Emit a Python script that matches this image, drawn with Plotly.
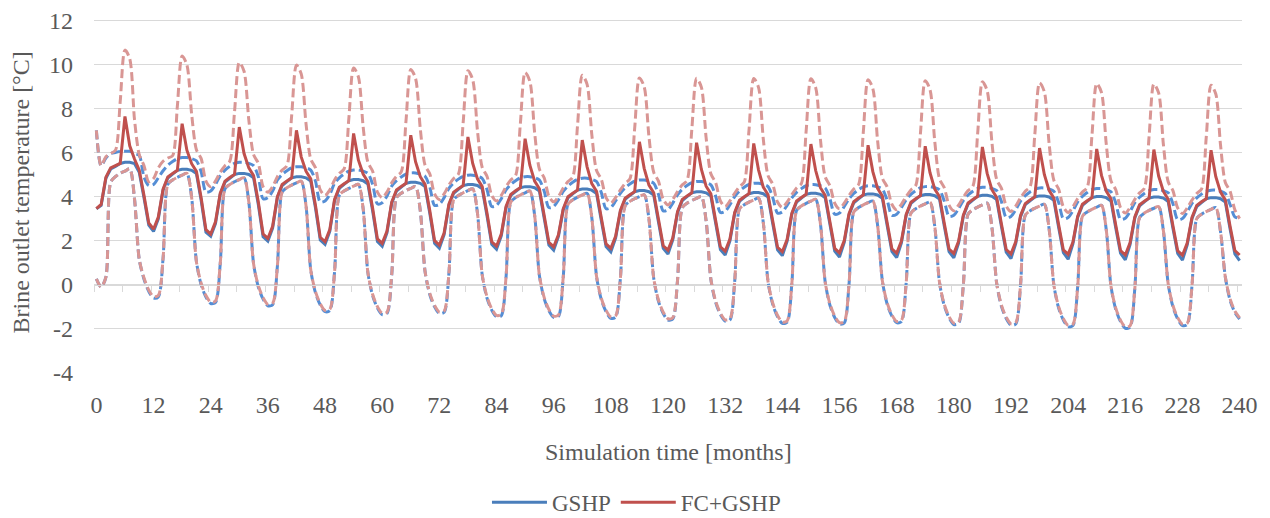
import plotly.graph_objects as go

# ---------------- data (monthly values, one row of 12 months per simulation year) ----------------
months = list(range(241))
tick_vals = [0, 12, 24, 36, 48, 60, 72, 84, 96, 108, 120, 132, 144, 156, 168, 180, 192, 204, 216, 228, 240]
tick_text = [str(v) for v in tick_vals]
y_tick_vals = [-4, -2, 0, 2, 4, 6, 8, 10, 12]
y_tick_text = ["-4", "-2", "0", "2", "4", "6", "8", "10", "12"]

gshp_mean_rows = [
    [3.45, 3.60, 4.83, 5.25, 5.37, 5.50, 5.55, 5.55, 5.50, 5.10, 3.93, 2.70],
    [2.42, 2.99, 4.29, 4.84, 5.02, 5.19, 5.24, 5.24, 5.19, 5.04, 3.82, 2.38],
    [2.20, 2.77, 4.10, 4.65, 4.83, 5.00, 5.05, 5.05, 5.00, 4.85, 3.63, 2.18],
    [1.98, 2.57, 3.95, 4.50, 4.68, 4.85, 4.90, 4.90, 4.85, 4.70, 3.48, 2.03],
    [1.83, 2.42, 3.82, 4.37, 4.55, 4.72, 4.77, 4.77, 4.72, 4.57, 3.35, 1.96],
    [1.75, 2.35, 3.70, 4.25, 4.43, 4.60, 4.65, 4.65, 4.60, 4.45, 3.23, 1.88],
    [1.66, 2.27, 3.60, 4.15, 4.33, 4.50, 4.55, 4.55, 4.50, 4.35, 3.13, 1.83],
    [1.61, 2.22, 3.50, 4.05, 4.23, 4.40, 4.45, 4.45, 4.40, 4.25, 3.03, 1.80],
    [1.57, 2.19, 3.39, 3.94, 4.12, 4.29, 4.34, 4.34, 4.29, 4.14, 2.92, 1.73],
    [1.49, 2.12, 3.32, 3.87, 4.05, 4.22, 4.27, 4.27, 4.22, 4.07, 2.85, 1.65],
    [1.40, 2.04, 3.27, 3.82, 4.00, 4.17, 4.22, 4.22, 4.17, 4.02, 2.80, 1.60],
    [1.35, 1.99, 3.23, 3.78, 3.96, 4.13, 4.18, 4.18, 4.13, 3.98, 2.76, 1.58],
    [1.32, 1.97, 3.20, 3.75, 3.93, 4.10, 4.15, 4.15, 4.10, 3.95, 2.73, 1.53],
    [1.26, 1.92, 3.17, 3.72, 3.90, 4.07, 4.12, 4.12, 4.07, 3.92, 2.70, 1.51],
    [1.23, 1.90, 3.14, 3.69, 3.87, 4.04, 4.09, 4.09, 4.04, 3.89, 2.67, 1.50],
    [1.22, 1.89, 3.11, 3.66, 3.84, 4.01, 4.06, 4.06, 4.01, 3.86, 2.64, 1.48],
    [1.19, 1.87, 3.08, 3.63, 3.81, 3.98, 4.03, 4.03, 3.98, 3.83, 2.61, 1.46],
    [1.16, 1.85, 3.05, 3.60, 3.78, 3.95, 4.00, 4.00, 3.95, 3.80, 2.58, 1.43],
    [1.13, 1.82, 3.03, 3.58, 3.76, 3.93, 3.98, 3.98, 3.93, 3.78, 2.56, 1.42],
    [1.12, 1.81, 3.00, 3.55, 3.73, 3.90, 3.95, 3.95, 3.90, 3.75, 2.53, 1.40],
]
gshp_mean_end = 1.10

gshp_max_rows = [
    [7.00, 5.40, 5.75, 5.95, 6.00, 6.05, 6.05, 6.05, 5.95, 5.86, 4.88, 4.50],
    [4.55, 4.85, 5.17, 5.42, 5.59, 5.72, 5.77, 5.77, 5.72, 5.62, 5.12, 4.20],
    [4.25, 4.55, 4.95, 5.20, 5.37, 5.50, 5.55, 5.55, 5.50, 5.40, 4.90, 3.90],
    [3.95, 4.25, 4.75, 5.00, 5.17, 5.30, 5.35, 5.35, 5.30, 5.20, 4.70, 3.75],
    [3.80, 4.10, 4.60, 4.85, 5.02, 5.15, 5.20, 5.20, 5.15, 5.05, 4.55, 3.67],
    [3.72, 4.02, 4.47, 4.72, 4.89, 5.02, 5.07, 5.07, 5.02, 4.92, 4.42, 3.60],
    [3.65, 3.95, 4.37, 4.62, 4.79, 4.92, 4.97, 4.97, 4.92, 4.82, 4.32, 3.55],
    [3.60, 3.90, 4.30, 4.55, 4.72, 4.85, 4.90, 4.90, 4.85, 4.75, 4.25, 3.50],
    [3.55, 3.85, 4.23, 4.48, 4.65, 4.78, 4.83, 4.83, 4.78, 4.68, 4.18, 3.45],
    [3.50, 3.80, 4.15, 4.40, 4.57, 4.70, 4.75, 4.75, 4.70, 4.60, 4.10, 3.35],
    [3.40, 3.70, 4.08, 4.33, 4.50, 4.63, 4.68, 4.68, 4.63, 4.53, 4.03, 3.28],
    [3.33, 3.63, 4.00, 4.25, 4.42, 4.55, 4.60, 4.60, 4.55, 4.45, 3.95, 3.25],
    [3.30, 3.60, 3.94, 4.19, 4.36, 4.49, 4.54, 4.54, 4.49, 4.39, 3.89, 3.20],
    [3.25, 3.55, 3.89, 4.14, 4.31, 4.44, 4.49, 4.49, 4.44, 4.34, 3.84, 3.15],
    [3.20, 3.50, 3.85, 4.10, 4.27, 4.40, 4.45, 4.45, 4.40, 4.30, 3.80, 3.10],
    [3.15, 3.45, 3.82, 4.07, 4.24, 4.37, 4.42, 4.42, 4.37, 4.27, 3.77, 3.05],
    [3.10, 3.40, 3.79, 4.04, 4.21, 4.34, 4.39, 4.39, 4.34, 4.24, 3.74, 3.00],
    [3.05, 3.35, 3.76, 4.01, 4.18, 4.31, 4.36, 4.36, 4.31, 4.21, 3.71, 2.97],
    [3.02, 3.32, 3.72, 3.97, 4.14, 4.27, 4.32, 4.32, 4.27, 4.17, 3.67, 2.95],
    [3.00, 3.30, 3.69, 3.94, 4.11, 4.24, 4.29, 4.29, 4.24, 4.14, 3.64, 3.08],
]
gshp_max_end = 3.02

gshp_min_rows = [
    [0.27, -0.10, 0.35, 4.65, 4.90, 5.06, 5.15, 5.26, 3.90, 1.15, 0.25, -0.30],
    [-0.60, -0.55, 1.20, 4.55, 4.75, 4.87, 4.97, 5.05, 3.95, 1.05, 0.00, -0.55],
    [-0.85, -0.80, 0.95, 4.35, 4.55, 4.67, 4.77, 4.85, 3.75, 0.95, -0.10, -0.65],
    [-0.95, -0.90, 0.85, 4.20, 4.40, 4.52, 4.62, 4.70, 3.60, 0.68, -0.37, -0.92],
    [-1.22, -1.17, 0.58, 4.05, 4.25, 4.37, 4.47, 4.55, 3.45, 0.55, -0.50, -1.05],
    [-1.35, -1.30, 0.45, 3.95, 4.15, 4.27, 4.37, 4.45, 3.35, 0.60, -0.45, -1.00],
    [-1.30, -1.25, 0.50, 3.85, 4.05, 4.17, 4.27, 4.35, 3.25, 0.45, -0.60, -1.15],
    [-1.45, -1.40, 0.35, 3.75, 3.95, 4.07, 4.17, 4.25, 3.15, 0.42, -0.63, -1.18],
    [-1.48, -1.43, 0.32, 3.65, 3.85, 3.97, 4.07, 4.15, 3.05, 0.38, -0.67, -1.22],
    [-1.52, -1.47, 0.28, 3.58, 3.78, 3.90, 4.00, 4.08, 2.98, 0.30, -0.75, -1.30],
    [-1.60, -1.55, 0.20, 3.50, 3.70, 3.82, 3.92, 4.00, 2.90, 0.25, -0.80, -1.35],
    [-1.65, -1.60, 0.15, 3.43, 3.63, 3.75, 3.85, 3.93, 2.83, 0.15, -0.90, -1.45],
    [-1.75, -1.70, 0.05, 3.37, 3.57, 3.69, 3.79, 3.87, 2.77, 0.12, -0.93, -1.48],
    [-1.78, -1.73, 0.02, 3.30, 3.50, 3.62, 3.72, 3.80, 2.70, 0.18, -0.87, -1.42],
    [-1.72, -1.67, 0.08, 3.25, 3.45, 3.57, 3.67, 3.75, 2.65, 0.10, -0.95, -1.50],
    [-1.80, -1.75, 0.00, 3.20, 3.40, 3.52, 3.62, 3.70, 2.60, 0.07, -0.98, -1.53],
    [-1.83, -1.78, -0.03, 3.15, 3.35, 3.47, 3.57, 3.65, 2.55, 0.00, -1.05, -1.60],
    [-1.90, -1.85, -0.10, 3.10, 3.30, 3.42, 3.52, 3.60, 2.50, -0.07, -1.12, -1.67],
    [-1.97, -1.92, -0.17, 3.05, 3.25, 3.37, 3.47, 3.55, 2.45, 0.05, -1.00, -1.55],
    [-1.85, -1.80, -0.05, 3.00, 3.20, 3.32, 3.42, 3.50, 2.40, 0.35, -0.70, -1.25],
]
gshp_min_end = -1.55

fc_mean_rows = [
    [3.45, 3.64, 4.88, 5.30, 5.40, 5.50, 7.63, 6.30, 5.70, 5.20, 4.05, 2.80],
    [2.52, 3.07, 4.34, 4.89, 5.05, 5.19, 7.30, 6.10, 5.49, 5.14, 3.94, 2.50],
    [2.30, 2.85, 4.15, 4.70, 4.86, 5.00, 7.15, 5.95, 5.30, 4.95, 3.75, 2.30],
    [2.10, 2.65, 4.00, 4.55, 4.71, 4.85, 7.00, 5.80, 5.15, 4.80, 3.60, 2.15],
    [1.95, 2.50, 3.87, 4.42, 4.58, 4.72, 6.86, 5.66, 5.02, 4.67, 3.47, 2.08],
    [1.88, 2.43, 3.75, 4.30, 4.46, 4.60, 6.78, 5.58, 4.90, 4.55, 3.35, 2.00],
    [1.80, 2.35, 3.65, 4.20, 4.36, 4.50, 6.70, 5.50, 4.80, 4.45, 3.25, 1.95],
    [1.75, 2.30, 3.55, 4.10, 4.26, 4.40, 6.62, 5.42, 4.70, 4.35, 3.15, 1.92],
    [1.72, 2.27, 3.44, 3.99, 4.15, 4.29, 6.56, 5.36, 4.59, 4.24, 3.04, 1.85],
    [1.65, 2.20, 3.37, 3.92, 4.08, 4.22, 6.48, 5.28, 4.52, 4.17, 2.97, 1.77],
    [1.57, 2.12, 3.32, 3.87, 4.03, 4.17, 6.44, 5.24, 4.47, 4.12, 2.92, 1.72],
    [1.52, 2.07, 3.28, 3.83, 3.99, 4.13, 6.41, 5.21, 4.43, 4.08, 2.88, 1.70],
    [1.50, 2.05, 3.25, 3.80, 3.96, 4.10, 6.38, 5.18, 4.40, 4.05, 2.85, 1.65],
    [1.45, 2.00, 3.22, 3.77, 3.93, 4.07, 6.33, 5.13, 4.37, 4.02, 2.82, 1.63],
    [1.43, 1.98, 3.19, 3.74, 3.90, 4.04, 6.28, 5.08, 4.34, 3.99, 2.79, 1.62],
    [1.42, 1.97, 3.16, 3.71, 3.87, 4.01, 6.25, 5.05, 4.31, 3.96, 2.76, 1.60],
    [1.40, 1.95, 3.13, 3.68, 3.84, 3.98, 6.20, 5.00, 4.28, 3.93, 2.73, 1.58],
    [1.38, 1.93, 3.10, 3.65, 3.81, 3.95, 6.16, 4.96, 4.25, 3.90, 2.70, 1.55],
    [1.35, 1.90, 3.08, 3.63, 3.79, 3.93, 6.13, 4.93, 4.23, 3.88, 2.68, 1.54],
    [1.34, 1.89, 3.05, 3.60, 3.76, 3.90, 6.10, 4.90, 4.20, 3.85, 2.65, 1.55],
]
fc_mean_end = 1.35

fc_max_rows = [
    [7.00, 5.40, 5.80, 5.95, 6.10, 8.30, 10.64, 10.25, 7.50, 5.90, 5.40, 4.67],
    [4.82, 5.30, 5.60, 5.75, 5.85, 8.10, 10.37, 9.97, 7.73, 6.12, 5.72, 4.70],
    [4.45, 4.70, 5.10, 5.40, 5.60, 7.84, 10.08, 9.68, 7.48, 5.90, 5.50, 4.45],
    [4.20, 4.45, 4.90, 5.20, 5.40, 7.68, 9.96, 9.56, 7.32, 5.70, 5.30, 4.30],
    [4.05, 4.30, 4.75, 5.05, 5.25, 7.54, 9.83, 9.43, 7.17, 5.55, 5.15, 4.20],
    [3.95, 4.20, 4.62, 4.92, 5.12, 7.44, 9.76, 9.36, 7.07, 5.42, 5.02, 4.12],
    [3.87, 4.12, 4.52, 4.82, 5.02, 7.36, 9.70, 9.30, 6.99, 5.32, 4.92, 4.05],
    [3.80, 4.05, 4.45, 4.75, 4.95, 7.29, 9.62, 9.22, 6.91, 5.25, 4.85, 4.01],
    [3.76, 4.00, 4.38, 4.68, 4.88, 7.19, 9.50, 9.10, 6.82, 5.18, 4.78, 3.95],
    [3.70, 3.95, 4.30, 4.60, 4.80, 7.09, 9.38, 8.98, 6.72, 5.10, 4.70, 3.87],
    [3.62, 3.87, 4.23, 4.53, 4.73, 7.05, 9.36, 8.96, 6.67, 5.03, 4.63, 3.80],
    [3.55, 3.80, 4.15, 4.45, 4.65, 7.00, 9.35, 8.95, 6.62, 4.95, 4.55, 3.75],
    [3.50, 3.75, 4.09, 4.39, 4.59, 6.97, 9.34, 8.94, 6.59, 4.89, 4.49, 3.70],
    [3.45, 3.70, 4.04, 4.34, 4.54, 6.92, 9.30, 8.90, 6.54, 4.84, 4.44, 3.65],
    [3.40, 3.65, 4.00, 4.30, 4.50, 6.88, 9.25, 8.85, 6.50, 4.80, 4.40, 3.61],
    [3.36, 3.61, 3.97, 4.27, 4.47, 6.84, 9.20, 8.80, 6.46, 4.77, 4.37, 3.57],
    [3.32, 3.57, 3.94, 4.24, 4.44, 6.80, 9.15, 8.75, 6.42, 4.74, 4.34, 3.53],
    [3.28, 3.53, 3.91, 4.21, 4.41, 6.77, 9.12, 8.72, 6.39, 4.71, 4.31, 3.50],
    [3.25, 3.50, 3.87, 4.17, 4.37, 6.74, 9.10, 8.70, 6.36, 4.67, 4.27, 3.48],
    [3.23, 3.48, 3.84, 4.14, 4.34, 6.70, 9.05, 8.65, 6.32, 4.64, 4.24, 3.40],
]
fc_max_end = 3.00

fc_min_rows = [
    [0.27, -0.10, 0.35, 4.65, 4.90, 5.06, 5.15, 5.26, 3.90, 1.15, 0.31, -0.24],
    [-0.54, -0.49, 1.20, 4.55, 4.75, 4.87, 4.97, 5.05, 3.95, 1.05, 0.06, -0.49],
    [-0.79, -0.74, 0.95, 4.35, 4.55, 4.67, 4.77, 4.85, 3.75, 0.95, -0.04, -0.59],
    [-0.89, -0.84, 0.85, 4.20, 4.40, 4.52, 4.62, 4.70, 3.60, 0.68, -0.31, -0.86],
    [-1.16, -1.11, 0.58, 4.05, 4.25, 4.37, 4.47, 4.55, 3.45, 0.55, -0.44, -0.99],
    [-1.29, -1.24, 0.45, 3.95, 4.15, 4.27, 4.37, 4.45, 3.35, 0.60, -0.39, -0.94],
    [-1.24, -1.19, 0.50, 3.85, 4.05, 4.17, 4.27, 4.35, 3.25, 0.45, -0.54, -1.09],
    [-1.39, -1.34, 0.35, 3.75, 3.95, 4.07, 4.17, 4.25, 3.15, 0.42, -0.57, -1.12],
    [-1.42, -1.37, 0.32, 3.65, 3.85, 3.97, 4.07, 4.15, 3.05, 0.38, -0.61, -1.16],
    [-1.46, -1.41, 0.28, 3.58, 3.78, 3.90, 4.00, 4.08, 2.98, 0.30, -0.69, -1.24],
    [-1.54, -1.49, 0.20, 3.50, 3.70, 3.82, 3.92, 4.00, 2.90, 0.25, -0.74, -1.29],
    [-1.59, -1.54, 0.15, 3.43, 3.63, 3.75, 3.85, 3.93, 2.83, 0.15, -0.84, -1.39],
    [-1.69, -1.64, 0.05, 3.37, 3.57, 3.69, 3.79, 3.87, 2.77, 0.12, -0.87, -1.42],
    [-1.72, -1.67, 0.02, 3.30, 3.50, 3.62, 3.72, 3.80, 2.70, 0.18, -0.81, -1.36],
    [-1.66, -1.61, 0.08, 3.25, 3.45, 3.57, 3.67, 3.75, 2.65, 0.10, -0.89, -1.44],
    [-1.74, -1.69, 0.00, 3.20, 3.40, 3.52, 3.62, 3.70, 2.60, 0.07, -0.92, -1.47],
    [-1.77, -1.72, -0.03, 3.15, 3.35, 3.47, 3.57, 3.65, 2.55, 0.00, -0.99, -1.54],
    [-1.84, -1.79, -0.10, 3.10, 3.30, 3.42, 3.52, 3.60, 2.50, -0.07, -1.06, -1.61],
    [-1.91, -1.86, -0.17, 3.05, 3.25, 3.37, 3.47, 3.55, 2.45, 0.05, -0.94, -1.49],
    [-1.79, -1.74, -0.05, 3.00, 3.20, 3.32, 3.42, 3.50, 2.40, 0.35, -0.64, -1.19],
]
fc_min_end = -1.50


def flatten(rows, end):
    return [v for row in rows for v in row] + [end]


gshp_mean = flatten(gshp_mean_rows, gshp_mean_end)
gshp_max = flatten(gshp_max_rows, gshp_max_end)
gshp_min = flatten(gshp_min_rows, gshp_min_end)
fc_mean = flatten(fc_mean_rows, fc_mean_end)
fc_max = flatten(fc_max_rows, fc_max_end)
fc_min = flatten(fc_min_rows, fc_min_end)

# ---------------- style ----------------
BLUE = "#4A7EBB"
BLUE_D = "#558ED5"
RED = "#C0504D"
RED_D = "#D99694"
TXT = "#595959"
GRID = "#D9D9D9"
FONT = "Liberation Serif"
DASH = "9px,4px"

fig = go.Figure()

fig.add_trace(go.Scatter(x=months, y=gshp_mean, mode="lines", name="GSHP",
                         line=dict(color=BLUE, width=3)))
fig.add_trace(go.Scatter(x=months, y=gshp_max, mode="lines", name="GSHP max", showlegend=False,
                         line=dict(color=BLUE_D, width=3, dash=DASH, shape="spline", smoothing=0.8)))
fig.add_trace(go.Scatter(x=months, y=gshp_min, mode="lines", name="GSHP min", showlegend=False,
                         line=dict(color=BLUE_D, width=3, dash=DASH, shape="spline", smoothing=0.8)))
fig.add_trace(go.Scatter(x=months, y=fc_mean, mode="lines", name="FC+GSHP",
                         line=dict(color=RED, width=3)))
fig.add_trace(go.Scatter(x=months, y=fc_max, mode="lines", name="FC+GSHP max", showlegend=False,
                         line=dict(color=RED_D, width=3, dash=DASH, shape="spline", smoothing=0.8)))
fig.add_trace(go.Scatter(x=months, y=fc_min, mode="lines", name="FC+GSHP min", showlegend=False,
                         line=dict(color=RED_D, width=3, dash=DASH, shape="spline", smoothing=0.8)))
# empty helper trace so the zero-line axis (with its tick marks) is rendered
fig.add_trace(go.Scatter(x=[], y=[], xaxis="x2", yaxis="y", showlegend=False, hoverinfo="skip"))

boundary_ticks = [-0.5 + 6 * i for i in range(41)]

Y_RANGE = [-4.0, 12.05]
zero_pos = (0 - Y_RANGE[0]) / (Y_RANGE[1] - Y_RANGE[0])

# the page body adds an 8 px margin, so the figure is 8 px smaller and shifted
fig.update_layout(
    width=1262, height=510,
    margin=dict(l=86, r=28, t=11, b=145, autoexpand=False),
    paper_bgcolor="white", plot_bgcolor="white",
    font=dict(family=FONT, size=24, color=TXT),
    xaxis=dict(range=[-0.5, 240.5], tickmode="array", tickvals=tick_vals, ticktext=tick_text,
               showgrid=False, zeroline=False, showline=False, ticks="",
               ticklabelstandoff=15, ticklabeloverflow="allow",
               tickfont=dict(size=24, color=TXT, family=FONT)),
    xaxis2=dict(overlaying="x", anchor="free", position=zero_pos, side="bottom",
                range=[-0.5, 240.5], showline=True, linecolor=GRID, linewidth=1,
                ticks="outside", ticklen=6, tickwidth=1, tickcolor=GRID,
                tickmode="array", tickvals=boundary_ticks, showticklabels=False,
                showgrid=False, zeroline=False),
    yaxis=dict(range=Y_RANGE, tickmode="array", tickvals=y_tick_vals, ticktext=y_tick_text,
               showgrid=True, gridcolor=GRID, gridwidth=1, zeroline=False, showline=False,
               ticks="", ticklabelstandoff=20, ticklabeloverflow="allow",
               tickfont=dict(size=24, color=TXT, family=FONT)),
    showlegend=True,
    legend=dict(orientation="h", xref="container", yref="container", x=0.498, xanchor="center",
                y=0.031, yanchor="middle", font=dict(size=23, color=TXT, family=FONT),
                itemwidth=55, bgcolor="rgba(0,0,0,0)", traceorder="normal"),
    annotations=[
        dict(text="Brine outlet temperature [°C]", xref="paper", yref="paper",
             x=-0.0636, y=0.51, xanchor="center", yanchor="middle", textangle=-90,
             showarrow=False, font=dict(size=24, color=TXT, family=FONT)),
        dict(text="Simulation time [months]", xref="paper", yref="paper",
             x=0.5, y=-0.224, xanchor="center", yanchor="middle",
             showarrow=False, font=dict(size=24, color=TXT, family=FONT)),
    ],
)

fig.write_html("out.html")
